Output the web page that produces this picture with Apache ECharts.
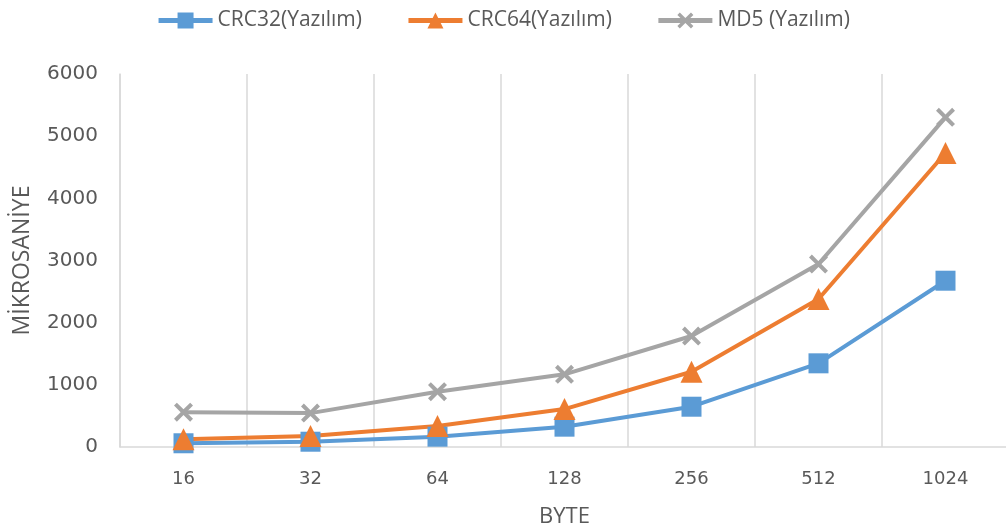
<!DOCTYPE html>
<html>
<head>
<meta charset="utf-8">
<script src="https://cdn.jsdelivr.net/npm/echarts@6/dist/echarts.min.js"></script>
<style>
  html, body { margin: 0; padding: 0; background: #ffffff; }
  #chart { width: 1006px; height: 528px; }
</style>
</head>
<body>
<div id="chart"></div>
<script>
// Byte sizes tested
const categories = ['16', '32', '64', '128', '256', '512', '1024'];

// Measured durations in microseconds
const crc32Values = [60, 85, 166, 327, 648, 1346, 2675];
const crc64Values = [124, 177, 338, 610, 1211, 2380, 4730];
const md5Values   = [560, 545, 890, 1169, 1785, 2943, 5303];

const seriesNames = ['CRC32(Yazılım)', 'CRC64(Yazılım)', 'MD5 (Yazılım)'];
const yTicks = { min: 0, max: 6000, interval: 1000 };

const FONT = '"Open Sans", "Noto Sans", sans-serif';
const TICK_FONT = '"DejaVu Sans", "Open Sans", sans-serif';
const TEXT = '#595959';

// Filled "X" marker shape
const crossPath = 'path://M0,1.5 L1.5,0 L5,3.5 L8.5,0 L10,1.5 L6.5,5 L10,8.5 L8.5,10 L5,6.5 L1.5,10 L0,8.5 L3.5,5 Z';

function lineSeries(name, data, color, symbol, size) {
  return {
    name: name,
    type: 'line',
    data: data,
    symbol: symbol,
    symbolSize: size,
    lineStyle: { color: color, width: 4 },
    itemStyle: { color: color },
    emphasis: { disabled: true },
    z: 3
  };
}

const chart = echarts.init(document.getElementById('chart'), null, { renderer: 'canvas' });
chart.setOption({
  animation: false,
  backgroundColor: '#ffffff',
  legend: {
    top: 5,
    left: 'center',
    itemWidth: 54,
    itemHeight: 20,
    itemGap: 44,
    lineStyle: { width: 5 },
    textStyle: { color: TEXT, fontSize: 21, fontFamily: FONT },
    data: seriesNames
  },
  grid: { left: 120, top: 74, width: 889, bottom: 81, containLabel: false, outerBoundsMode: 'none' },
  xAxis: {
    type: 'category',
    data: categories,
    boundaryGap: true,
    name: 'BYTE',
    nameLocation: 'middle',
    nameGap: 59,
    nameTextStyle: { color: TEXT, fontSize: 22, fontFamily: FONT },
    axisLine: { show: true, lineStyle: { color: '#D9D9D9', width: 1.5 } },
    axisTick: { show: false },
    axisLabel: { color: TEXT, fontSize: 18, fontFamily: TICK_FONT, margin: 23 },
    splitLine: { show: true, lineStyle: { color: '#D9D9D9', width: 1.5 } }
  },
  yAxis: {
    type: 'value',
    min: yTicks.min,
    max: yTicks.max,
    interval: yTicks.interval,
    name: 'MİKROSANİYE',
    nameLocation: 'middle',
    nameGap: 86,
    nameTextStyle: { color: TEXT, fontSize: 23, fontFamily: FONT },
    axisLine: { show: true, lineStyle: { color: '#D9D9D9', width: 1.5 } },
    axisTick: { show: false },
    axisLabel: { color: TEXT, fontSize: 20, fontFamily: TICK_FONT, margin: 22, formatter: function (v) { return String(v); } },
    splitLine: { show: false }
  },
  series: [
    lineSeries(seriesNames[0], crc32Values, '#5B9BD5', 'rect', 20),
    lineSeries(seriesNames[1], crc64Values, '#ED7D31', 'triangle', 22),
    lineSeries(seriesNames[2], md5Values, '#A5A5A5', crossPath, 19)
  ]
});
</script>
</body>
</html>
